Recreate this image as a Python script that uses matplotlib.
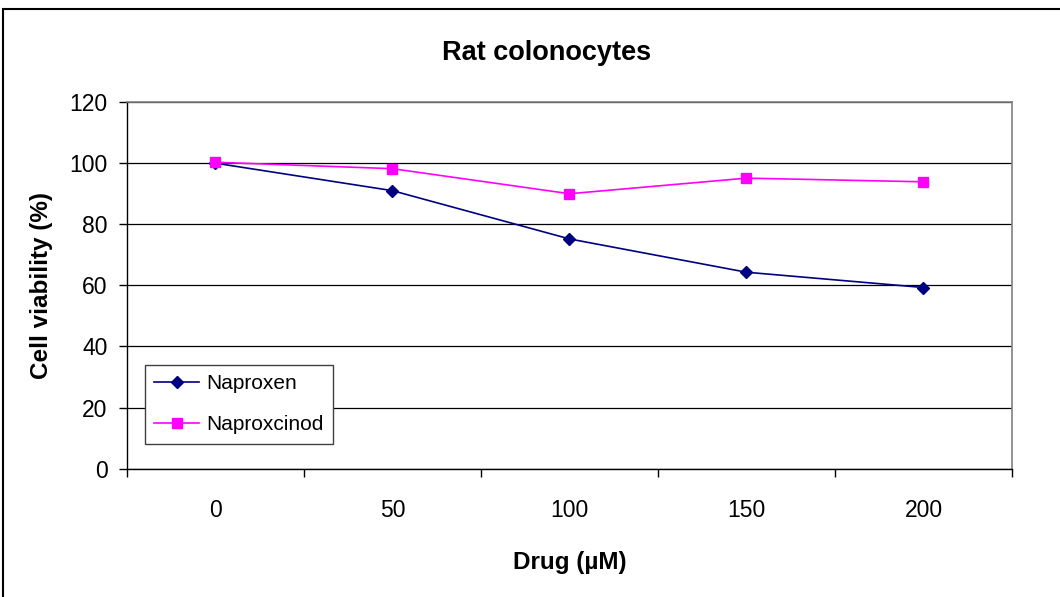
import matplotlib.pyplot as plt
from matplotlib.patches import Rectangle

# Data
doses = ['0', '50', '100', '150', '200']
naproxen = [100, 91, 75.2, 64.3, 59.3]
naproxcinod = [100.3, 98.2, 90.0, 95.1, 93.9]

plt.rcParams['font.family'] = ['Liberation Sans', 'DejaVu Sans']

fig = plt.figure(figsize=(10.6, 5.97), dpi=100)
ax = fig.add_axes([0.1198, 0.215, 0.8349, 0.614])

# outer chart border
fig.patches.append(Rectangle((0.003, -0.05), 1.2, 1.035, transform=fig.transFigure,
                             fill=False, edgecolor='black', linewidth=1.5))

x = range(len(doses))
ax.plot(x, naproxen, color='#000080', marker='D', markersize=6.6, linewidth=1.2,
        label='Naproxen')
ax.plot(x, naproxcinod, color='#FF00FF', marker='s', markersize=7.3, linewidth=1.2,
        label='Naproxcinod')

ax.set_xlim(-0.5, len(doses) - 0.5)
ax.set_ylim(0, 120)
ax.set_yticks(range(0, 121, 20))
ax.yaxis.grid(True, color='black', linewidth=0.9)
ax.set_axisbelow(True)

# category ticks sit between the categories, labels centered on them
ax.set_xticks([i - 0.5 for i in range(len(doses) + 1)])
ax.set_xticklabels([])
ax.set_xticks(list(x), minor=True)
ax.set_xticklabels(doses, minor=True)
ax.tick_params(axis='x', which='major', length=6, width=1, direction='out')
ax.tick_params(axis='x', which='minor', length=0, pad=22, labelsize=16.5)
ax.tick_params(axis='y', length=6, width=1, direction='out', pad=8, labelsize=16.5)

for s in ['left', 'bottom']:
    ax.spines[s].set_color('black')
    ax.spines[s].set_linewidth(1)
for s in ['top', 'right']:
    ax.spines[s].set_color('#808080')
    ax.spines[s].set_linewidth(1.2)

fig.text(0.5156, 0.912, 'Rat colonocytes', ha='center', va='center',
         fontsize=19.5, fontweight='bold')
ax.set_xlabel('Drug (\u00b5M)', fontsize=17.5, fontweight='bold', labelpad=21)
ax.set_ylabel('Cell viability (%)', fontsize=17.5, fontweight='bold', labelpad=12)

leg = ax.legend(loc='lower left', bbox_to_anchor=(0.0203, 0.068), borderaxespad=0,
                fontsize=15, fancybox=False, framealpha=1, edgecolor='#404040',
                handlelength=2.15, borderpad=0.45, labelspacing=1.05,
                handletextpad=0.35)
leg.get_frame().set_linewidth(1)

plt.savefig('out.png', dpi=100)
